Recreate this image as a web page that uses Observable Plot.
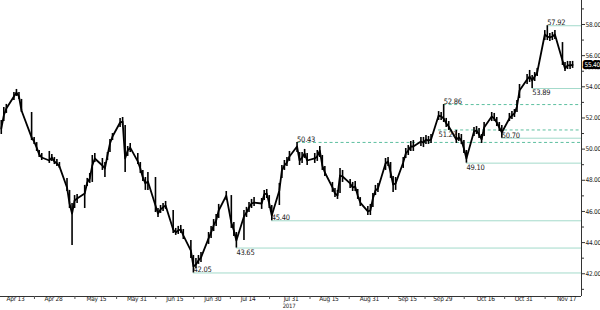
<!DOCTYPE html>
<html><head><meta charset="utf-8">
<script src="https://cdn.jsdelivr.net/npm/d3@7"></script>
<script src="https://cdn.jsdelivr.net/npm/@observablehq/plot@0.6"></script>
<style>html,body{margin:0;padding:0;background:#fff;} svg text{letter-spacing:-0.25px;}</style>
</head><body>
<div id="chart"></div>
<script>
const dates = [
"2017-04-05","2017-04-06","2017-04-07","2017-04-10","2017-04-11","2017-04-12","2017-04-13","2017-04-17","2017-04-18","2017-04-19","2017-04-20","2017-04-21","2017-04-24","2017-04-25","2017-04-26","2017-04-27","2017-04-28",
"2017-05-01","2017-05-02","2017-05-03","2017-05-04","2017-05-05","2017-05-08","2017-05-09","2017-05-10","2017-05-11","2017-05-12","2017-05-15","2017-05-16","2017-05-17","2017-05-18","2017-05-19","2017-05-22","2017-05-23","2017-05-24","2017-05-25","2017-05-26","2017-05-29","2017-05-30","2017-05-31",
"2017-06-01","2017-06-02","2017-06-05","2017-06-06","2017-06-07","2017-06-08","2017-06-09","2017-06-12","2017-06-13","2017-06-14","2017-06-15","2017-06-16","2017-06-19","2017-06-20","2017-06-21","2017-06-22","2017-06-23","2017-06-26","2017-06-27","2017-06-28","2017-06-29","2017-06-30",
"2017-07-03","2017-07-05","2017-07-06","2017-07-07","2017-07-10","2017-07-11","2017-07-12","2017-07-13","2017-07-14","2017-07-17","2017-07-18","2017-07-19","2017-07-20","2017-07-21","2017-07-24","2017-07-25","2017-07-26","2017-07-27","2017-07-28","2017-07-31",
"2017-08-01","2017-08-02","2017-08-03","2017-08-04","2017-08-07","2017-08-08","2017-08-09","2017-08-10","2017-08-11","2017-08-14","2017-08-15","2017-08-16","2017-08-17","2017-08-18","2017-08-21","2017-08-22","2017-08-23","2017-08-24","2017-08-25","2017-08-28","2017-08-29","2017-08-30","2017-08-31",
"2017-09-01","2017-09-04","2017-09-05","2017-09-06","2017-09-07","2017-09-08","2017-09-11","2017-09-12","2017-09-13","2017-09-14","2017-09-15","2017-09-18","2017-09-19","2017-09-20","2017-09-21","2017-09-22","2017-09-25","2017-09-26","2017-09-27","2017-09-28","2017-09-29",
"2017-10-02","2017-10-03","2017-10-04","2017-10-05","2017-10-06","2017-10-09","2017-10-10","2017-10-11","2017-10-12","2017-10-13","2017-10-16","2017-10-17","2017-10-18","2017-10-19","2017-10-20","2017-10-23","2017-10-24","2017-10-25","2017-10-26","2017-10-27","2017-10-30","2017-10-31",
"2017-11-01","2017-11-02","2017-11-03","2017-11-06","2017-11-07","2017-11-08","2017-11-09","2017-11-10","2017-11-13","2017-11-14","2017-11-15","2017-11-16","2017-11-17"];

const closes = [
51.32,52.16,52.61,53.38,53.64,53.38,52.48,50.75,50.49,50.10,49.66,49.46,49.27,49.46,49.21,49.08,48.89,
47.54,46.51,45.87,46.70,46.83,47.15,47.86,48.12,48.95,49.40,48.95,48.76,49.59,50.36,50.81,51.71,51.77,49.40,49.91,50.10,49.21,48.76,48.18,
47.80,47.92,46.38,45.87,46.13,46.26,46.38,44.84,44.65,44.78,44.84,44.46,43.49,42.47,42.60,42.85,43.04,44.27,44.65,45.10,45.42,46.06,
47.02,45.29,44.78,44.14,45.68,45.93,46.26,46.51,46.57,46.51,47.09,47.15,46.51,45.74,47.35,48.63,48.95,49.14,49.53,50.17,
49.27,49.46,49.72,49.27,49.40,49.53,49.91,48.95,48.50,47.54,47.15,47.02,48.31,48.24,47.80,47.54,47.60,47.02,46.57,46.00,46.06,46.83,47.35,
47.47,49.08,49.21,48.50,47.73,47.80,49.14,49.72,49.91,50.17,50.17,50.49,50.42,50.62,50.55,50.62,52.16,52.10,51.97,51.65,51.45,
50.62,50.75,50.55,50.04,49.40,51.13,51.20,50.94,50.62,51.39,52.10,51.97,51.71,51.39,51.07,51.97,52.16,52.29,52.74,53.76,54.47,54.66,
54.41,54.66,54.92,57.36,57.23,57.17,57.23,57.36,55.69,55.18,55.37,55.37,55.40];

const highs = [
51.84,52.67,52.87,53.64,53.83,53.64,53.19,52.35,50.75,50.42,49.91,49.72,49.85,49.66,49.46,49.33,49.14,
48.12,47.35,46.51,47.02,47.09,47.67,48.12,48.44,49.59,49.72,49.40,49.14,49.78,50.62,51.00,51.97,52.03,51.52,50.17,50.36,49.72,49.14,48.63,
48.18,48.50,48.18,46.19,46.38,46.51,46.64,46.06,44.91,45.04,45.10,44.84,44.14,43.17,42.98,43.17,43.36,44.65,45.04,45.48,45.80,46.45,
47.28,47.02,45.29,44.65,46.06,46.26,46.57,46.77,46.89,46.83,47.35,47.41,47.02,46.38,47.80,48.95,49.27,49.46,49.85,50.43,
49.78,49.78,49.98,49.72,49.72,49.91,50.17,49.59,48.89,47.86,47.47,47.35,48.76,48.63,48.05,47.86,47.92,47.41,46.89,46.32,46.45,47.15,47.67,
47.80,49.40,49.46,49.14,48.24,48.18,49.46,50.04,50.23,50.49,50.55,50.75,50.75,50.88,50.81,50.94,52.41,52.35,52.86,51.97,51.77,
51.20,51.00,50.94,50.55,49.91,51.39,51.45,51.32,50.94,51.71,52.35,52.29,52.03,51.71,51.52,52.29,52.41,52.54,53.12,54.15,54.79,55.05,
54.73,54.92,55.18,57.61,57.92,57.42,57.49,57.61,56.84,55.56,55.63,55.63,55.63];

const lows = [
50.94,51.77,52.29,53.12,53.38,53.19,52.35,50.55,50.30,49.85,49.46,49.27,49.08,49.21,49.01,48.89,48.76,
47.28,46.19,43.81,46.19,46.51,46.19,47.60,47.80,47.86,49.14,48.63,48.18,49.27,49.78,50.55,51.39,51.52,48.50,49.53,49.78,49.01,48.44,47.92,
47.35,47.35,45.93,45.61,45.87,46.00,46.13,44.59,44.46,44.52,44.59,44.20,42.98,42.05,42.34,42.60,42.72,43.88,44.27,44.71,45.04,45.55,
46.70,44.91,44.39,43.65,44.14,45.61,45.93,46.19,46.32,46.13,46.70,46.83,46.19,45.40,46.38,48.12,48.63,48.89,49.21,49.78,
48.95,49.08,49.40,48.95,49.08,49.21,49.46,48.63,48.24,47.22,46.89,46.77,47.15,47.86,47.47,47.28,47.28,46.77,46.32,45.74,45.74,46.26,47.02,
47.22,48.63,48.89,48.12,47.22,47.35,48.76,49.40,49.59,49.85,49.85,50.17,50.10,50.30,50.30,50.36,51.84,51.84,51.71,51.39,51.20,
50.36,50.49,50.30,49.72,49.10,50.81,50.94,50.68,50.36,50.81,51.77,51.77,51.45,51.13,50.70,51.77,51.90,52.03,52.35,53.25,54.15,54.28,
53.89,54.34,54.66,56.97,56.97,56.91,56.97,57.04,55.37,54.98,55.11,55.11,55.18];

// horizontal support / resistance levels
const levelValues = [57.92, 53.89, 52.86, 51.23, 50.70, 50.43, 49.10, 45.40, 43.65, 42.05];
const levelStarts = ["2017-11-07","2017-11-01","2017-09-27","2017-09-25","2017-10-20","2017-07-31","2017-10-06","2017-07-21","2017-07-07","2017-06-20"];
const levelDashed = [false, false, true, true, false, true, false, false, false, false];
const levelSide   = ["above","below","above","below","above","above","below","above","below","above"];

const xTickLabels = ["2017-04-13","2017-04-28","2017-05-15","2017-05-31","2017-06-15","2017-06-30","2017-07-14","2017-07-31","2017-08-15","2017-08-31","2017-09-15","2017-09-29","2017-10-16","2017-10-31","2017-11-17"];
const yearLabel = {date: "2017-07-31", text: "2017"};
const yMajorTicks = [42, 44, 46, 48, 50, 52, 54, 56, 58];
const yMinorTicks = [41, 43, 45, 47, 49, 51, 53, 55, 57, 59];

const parse = d3.utcParse("%Y-%m-%d");
const bars = dates.map((d, i) => ({date: parse(d), high: highs[i], low: lows[i], close: closes[i]}));
const levels = levelValues.map((v, i) => ({value: v, start: parse(levelStarts[i]), dashed: levelDashed[i], side: levelSide[i]}));
const labelDates = xTickLabels.map(parse);
const sepDates = d3.pairs(labelDates, (a, b) => new Date((+a + +b) / 2));

const xDomain = [new Date(Date.UTC(2017, 3, 4, 16, 38)), new Date(Date.UTC(2017, 10, 20, 12, 30))];
const yDomain = [40.54, 59.54];
const SHIFT = -6;
const solidColor = "#a3dacb";
const dashColor = "#5cbf9f";
const ink = "#222";

const chart = Plot.plot({
  width: 600, height: 310,
  marginLeft: 0, marginRight: 19, marginTop: 0, marginBottom: 14,
  style: {fontFamily: '"Liberation Sans Narrow","DejaVu Sans Condensed","Liberation Sans",sans-serif', fontSize: "6.5px", color: ink, background: "#fff"},
  x: {type: "utc", domain: xDomain, label: null},
  y: {domain: yDomain, label: null},
  marks: [
    Plot.ruleY(levels.filter(d => !d.dashed), {y: "value", x1: "start", x2: () => xDomain[1], stroke: solidColor, strokeWidth: 1}),
    Plot.ruleY(levels.filter(d => d.dashed), {y: "value", x1: "start", x2: () => xDomain[1], stroke: dashColor, strokeWidth: 1, strokeDasharray: "3,2.5"}),
    Plot.ruleX(bars, {x: "date", y1: "low", y2: "high", stroke: "#000", strokeWidth: 1.6}),
    Plot.line(bars, {x: "date", y: "close", stroke: "#000", strokeWidth: 1.8}),
    Plot.text(levels.filter(d => d.side === "above"), {x: "start", y: "value", text: d => d.value.toFixed(2), textAnchor: "start", lineAnchor: "bottom", dy: -0.5, fontSize: 7.5, fill: ink}),
    Plot.text(levels.filter(d => d.side === "below"), {x: "start", y: "value", text: d => d.value.toFixed(2), textAnchor: "start", lineAnchor: "top", dy: 1.5, fontSize: 7.5, fill: ink}),
    Plot.ruleX([xDomain[1]], {stroke: "#333", strokeWidth: 1}),
    Plot.ruleY([yDomain[0]], {stroke: "#333", strokeWidth: 1}),
    Plot.axisY(yMajorTicks, {anchor: "right", tickSize: 3, tickPadding: 1, tickFormat: d => d.toFixed(2), label: null, stroke: "#333", fill: ink}),
    Plot.axisY(yMinorTicks, {anchor: "right", tickSize: 2, tickFormat: () => "", label: null, stroke: "#333"}),
    Plot.axisX(labelDates, {anchor: "bottom", tickSize: 0, tickPadding: 0, tickFormat: d3.utcFormat("%b %d"), dx: SHIFT, dy: -0.5, label: null, fill: ink}),
    Plot.axisX(sepDates, {anchor: "bottom", tickSize: 3, tickFormat: () => "", dx: SHIFT, label: null, stroke: "#555"}),
    Plot.text([yearLabel], {x: d => parse(d.date), text: "text", frameAnchor: "bottom", dy: 11.5, dx: SHIFT - 2, fill: ink, fontSize: 6}),
    Plot.text([closes[closes.length - 1]], {y: d => d, frameAnchor: "right", text: d => d.toFixed(2), textAnchor: "start", dx: 3, fill: "#fff", stroke: "#000", strokeWidth: 4.5, fontSize: 6.5})
  ]
});
document.getElementById("chart").appendChild(chart);
</script>
</body></html>
